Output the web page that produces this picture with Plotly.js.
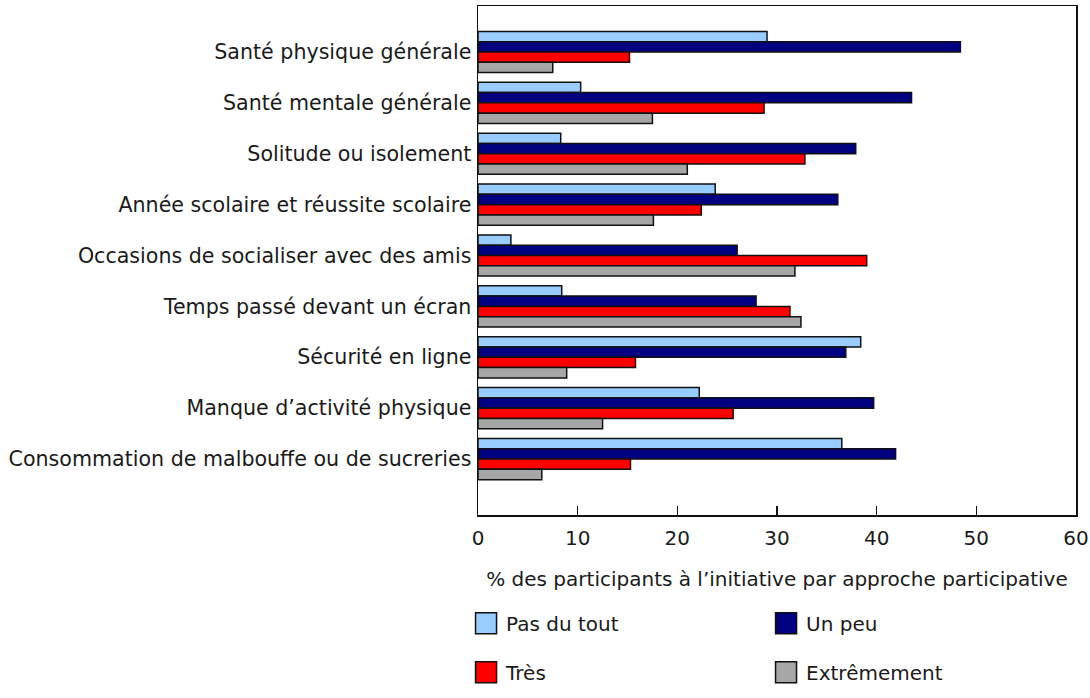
<!DOCTYPE html>
<html>
<head>
<meta charset="utf-8">
<script src="https://cdn.plot.ly/plotly-3.0.1.min.js"></script>
<style>html,body{margin:0;padding:0;background:#fff;}#chart{width:1090px;height:698px;}</style>
</head>
<body>
<div id="chart"></div>
<script>
var categories = [
  "Santé physique générale",
  "Santé mentale générale",
  "Solitude ou isolement",
  "Année scolaire et réussite scolaire",
  "Occasions de socialiser avec des amis",
  "Temps passé devant un écran",
  "Sécurité en ligne",
  "Manque d’activité physique",
  "Consommation de malbouffe ou de sucreries"
];
var seriesNames = ["Pas du tout", "Un peu", "Très", "Extrêmement"];
var pasDuTout   = [29.0, 10.3, 8.3, 23.8, 3.3, 8.4, 38.4, 22.2, 36.5];
var unPeu       = [48.4, 43.5, 37.9, 36.1, 26.0, 27.9, 36.9, 39.7, 41.9];
var tres        = [15.2, 28.7, 32.8, 22.4, 39.0, 31.3, 15.8, 25.6, 15.3];
var extremement = [7.5, 17.5, 21.0, 17.6, 31.8, 32.4, 8.9, 12.5, 6.4];
var xTicks = [0, 10, 20, 30, 40, 50, 60];
var xTitle = "% des participants à l’initiative par approche participative";

var colors = ["#99CCFF", "#000080", "#FF0000", "#A6A6A6"];
var values = [pasDuTout, unPeu, tres, extremement];
var legends = ["legend", "legend", "legend2", "legend2"];

var traces = values.map(function (v, i) {
  return {
    type: "bar",
    orientation: "h",
    name: seriesNames[i],
    x: v,
    y: categories,
    legend: legends[i],
    marker: { color: colors[i], line: { color: "#111", width: 1.5 } },
    hoverinfo: "x+name"
  };
});

var font = { family: "DejaVu Sans, Verdana, sans-serif", size: 20, color: "#1a1a1a" };
var yFont = { family: "DejaVu Sans, Verdana, sans-serif", size: 20.6, color: "#1a1a1a" };

var layout = {
  width: 1090,
  height: 698,
  margin: { l: 478, r: 14, t: 6, b: 172 },
  paper_bgcolor: "#fff",
  plot_bgcolor: "#fff",
  font: font,
  barmode: "group",
  bargap: 0.19,
  bargroupgap: 0,
  showlegend: true,
  xaxis: {
    range: [0, 60],
    tickvals: xTicks,
    ticktext: xTicks.map(String),
    ticks: "inside",
    ticklen: 9,
    tickwidth: 1.5,
    tickcolor: "#111",
    ticklabelstandoff: 4,
    showgrid: false,
    zeroline: false,
    showline: true,
    linecolor: "#111",
    linewidth: 1.5,
    mirror: true,
    tickfont: font,
    title: { text: xTitle, font: font, standoff: 23 },
    automargin: false
  },
  yaxis: {
    type: "category",
    range: [9.1, -0.904],
    categoryorder: "array",
    categoryarray: categories,
    ticks: "",
    showgrid: false,
    zeroline: false,
    showline: true,
    linecolor: "#111",
    linewidth: 1.5,
    mirror: true,
    tickfont: yFont,
    ticklabelstandoff: 1,
    automargin: false
  },
  legend: {
    orientation: "h",
    x: -0.02, xanchor: "left",
    y: -0.2125, yanchor: "middle",
    entrywidth: 255, entrywidthmode: "pixels",
    font: font,
    bgcolor: "rgba(0,0,0,0)",
    traceorder: "normal"
  },
  legend2: {
    orientation: "h",
    x: -0.02, xanchor: "left",
    y: -0.3087, yanchor: "middle",
    entrywidth: 255, entrywidthmode: "pixels",
    font: font,
    bgcolor: "rgba(0,0,0,0)",
    traceorder: "normal"
  }
};

Plotly.newPlot("chart", traces, layout, { displayModeBar: false, staticPlot: true }).then(function (gd) {
  // enlarge the legend swatches to match the reference's bigger squares
  gd.querySelectorAll(".legendpoints path").forEach(function (p) {
    var t = p.getAttribute("transform") || "";
    p.setAttribute("transform", t + " scale(1.75)");
    p.style.vectorEffect = "non-scaling-stroke";
    p.style.strokeWidth = "1.5px";
  });
});
</script>
</body>
</html>
